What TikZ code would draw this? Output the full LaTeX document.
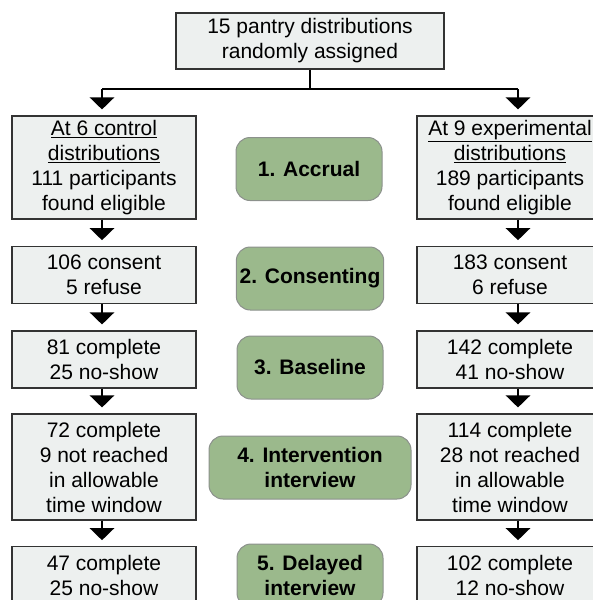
\documentclass[tikz,border=0pt]{standalone}
\usepackage{fontspec}
\setmainfont{Liberation Sans}
\usetikzlibrary{arrows.meta, positioning, calc}
\definecolor{boxgray}{RGB}{237,240,239}
\definecolor{stagegreen}{RGB}{155,185,140}
\definecolor{stageedge}{RGB}{140,145,140}
\tikzset{
  box/.style={draw=black!80, line width=1.1pt, fill=boxgray, align=center, inner sep=2pt, font=\fontsize{21}{25}\selectfont},
  stage/.style={draw=stageedge, line width=1pt, fill=stagegreen, rounded corners=14pt, align=center, minimum width=146pt, minimum height=63pt, font=\fontsize{21}{25}\selectfont\bfseries},
  flow/.style={line width=2.8pt, -{Triangle[width=24pt,length=12pt]}, shorten >=6pt},
  link/.style={line width=1.3pt}
}

\begin{document}
\begin{tikzpicture}[x=1pt, y=-1pt]
    \useasboundingbox (0,0) rectangle (593,600);
    \clip (0,0) rectangle (593,600);

    % Randomisation
    \node[box, minimum width=268pt, minimum height=56pt] (top) at (310,41) {15 pantry distributions\\randomly assigned};

    % Control arm
    \node[box, minimum width=184pt, minimum height=103pt] (c1) at (104,167.5) {\underline{At 6 control}\\\underline{distributions}\\111 participants\\found eligible};
    \node[box, minimum width=184pt, minimum height=56.5pt] (c2) at (104,275) {106 consent\\5 refuse};
    \node[box, minimum width=184pt, minimum height=57pt] (c3) at (104,359.5) {81 complete\\25 no-show};
    \node[box, minimum width=184pt, minimum height=106pt] (c4) at (104,467) {72 complete\\9 not reached\\in allowable\\time window};
    \node[box, minimum width=184pt, minimum height=56.5pt] (c5) at (104,575) {47 complete\\25 no-show};

    % Experimental arm
    \node[box, minimum width=186pt, minimum height=103pt] (e1) at (510,167.5) {\underline{At 9 experimental}\\\underline{distributions}\\189 participants\\found eligible};
    \node[box, minimum width=186pt, minimum height=56.5pt] (e2) at (510,275) {183 consent\\6 refuse};
    \node[box, minimum width=186pt, minimum height=57pt] (e3) at (510,359.5) {142 complete\\41 no-show};
    \node[box, minimum width=186pt, minimum height=106pt] (e4) at (510,467) {114 complete\\28 not reached\\in allowable\\time window};
    \node[box, minimum width=186pt, minimum height=56.5pt] (e5) at (510,575) {102 complete\\12 no-show};

    % Stages
    \node[stage] (s1) at (309,169) {1. Accrual};
    \node[stage] (s2) at (310,278.5) {2. Consenting};
    \node[stage] (s3) at (310,367.5) {3. Baseline};
    \node[stage, minimum width=202pt] (s4) at (310,467.5) {4. Intervention\\interview};
    \node[stage] (s5) at (310,575.5) {5. Delayed\\interview};

    % Split into the two arms
    \coordinate (fork) at (310,89);
    \path ([xshift=-2pt]c1.north) coordinate (cin) ([xshift=8pt]e1.north) coordinate (ein);
    \draw[link] (top.south) -- (fork);
    \draw[link] (cin |- fork) -- (ein |- fork);
    \draw[flow] (cin |- fork) -- (cin);
    \draw[flow] (ein |- fork) -- (ein);

    % Steps down each arm
    \foreach \a/\b in {c1/c2, c2/c3, c3/c4, c4/c5}
        \draw[flow] ([xshift=-2pt]\a.south) -- ([xshift=-2pt]\b.north);
    \foreach \a/\b in {e1/e2, e2/e3, e3/e4, e4/e5}
        \draw[flow] ([xshift=8pt]\a.south) -- ([xshift=8pt]\b.north);
\end{tikzpicture}
\end{document}
